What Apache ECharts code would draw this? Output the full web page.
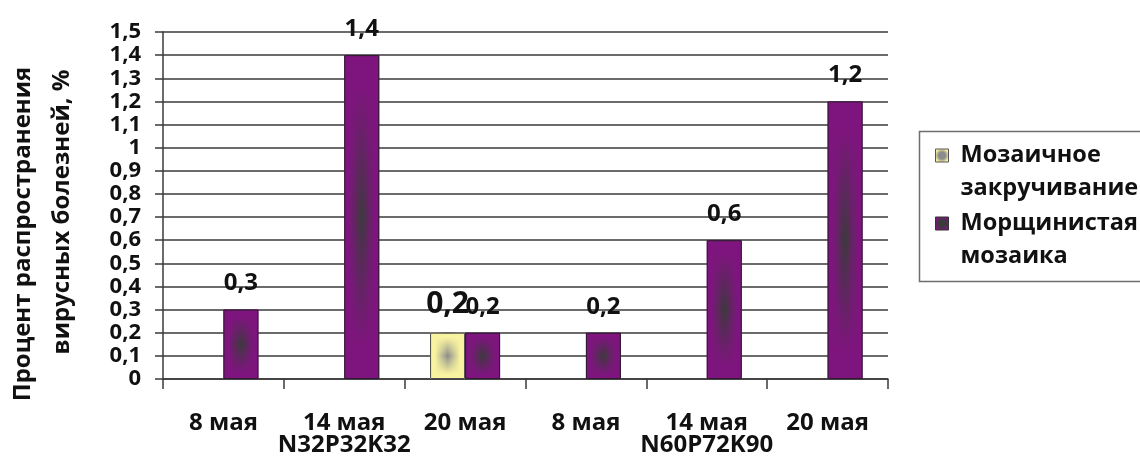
<!DOCTYPE html>
<html>
<head>
<meta charset="utf-8">
<script src="https://cdn.jsdelivr.net/npm/echarts@6/dist/echarts.min.js"></script>
<style>
  html, body { margin: 0; padding: 0; background: #ffffff; }
  #chart { width: 1140px; height: 475px; }
</style>
</head>
<body>
<div id="chart"></div>
<script>
// Sampling dates within each fertiliser treatment
const dates = ['8 мая', '14 мая', '20 мая'];
const treatments = ['N32P32K32', 'N60P72K90'];
const seriesNames = ['Мозаичное закручивание', 'Морщинистая мозаика'];
// Share of plants with virus symptoms, % (per treatment × date)
const mosaicCurl = [null, null, 0.2, null, null, null];
const wrinkledMosaic = [0.3, 1.4, 0.2, 0.2, 0.6, 1.2];
const yTitleLines = ['Процент распространения', 'вирусных болезней, %'];

const FONT = '"Open Sans", "DejaVu Sans", sans-serif';
const categories = [];
treatments.forEach(t => dates.forEach(d => categories.push(t + ' ' + d)));

const comma = v => String(Math.round(v * 10) / 10).replace('.', ',');

// Fill for a bar: a horizontal band that is darkest in the middle,
// plus an overlay that fades the edge colour back in toward top and bottom.
function baseFill(edge, core) {
  return {
    type: 'linear', x: 0, y: 0, x2: 1, y2: 0,
    colorStops: [
      { offset: 0, color: edge }, { offset: 0.14, color: edge },
      { offset: 0.5, color: core },
      { offset: 0.86, color: edge }, { offset: 1, color: edge }
    ]
  };
}
function fadeFill(rgb) {
  return {
    type: 'linear', x: 0, y: 0, x2: 0, y2: 1,
    colorStops: [
      { offset: 0, color: 'rgba(' + rgb + ',1)' },
      { offset: 0.1, color: 'rgba(' + rgb + ',1)' },
      { offset: 0.5, color: 'rgba(' + rgb + ',0)' },
      { offset: 0.9, color: 'rgba(' + rgb + ',1)' },
      { offset: 1, color: 'rgba(' + rgb + ',1)' }
    ]
  };
}
function iconFill(edge, core) {
  return {
    type: 'radial', x: 0.5, y: 0.5, r: 0.5,
    colorStops: [{ offset: 0, color: core }, { offset: 0.5, color: core }, { offset: 1, color: edge }]
  };
}

const YELLOW = '#f8f3a0', YELLOW_RGB = '248,243,160', YELLOW_CORE = '#8c8c8c';
const PURPLE = '#7e157e', PURPLE_RGB = '126,21,126', PURPLE_CORE = '#3b3b3b';

const BAR_W = 35;

function labelCfg(size, dist) {
  return {
    show: true, position: 'top', distance: dist,
    fontFamily: FONT, fontWeight: 'bold', fontSize: size, color: '#111',
    formatter: p => comma(p.value)
  };
}

const chart = echarts.init(document.getElementById('chart'), null, { renderer: 'canvas' });

chart.setOption({
  backgroundColor: '#ffffff',
  animation: false,
  grid: { left: 163, right: 252, top: 32, bottom: 96, containLabel: false },
  xAxis: [
    {
      type: 'category', data: categories, position: 'bottom',
      axisLine: { show: true, lineStyle: { color: '#3a3a3a', width: 1.5 } },
      axisTick: { show: true, length: 10, inside: false, lineStyle: { color: '#3a3a3a', width: 1.5 } },
      axisLabel: {
        interval: 0, margin: 33, lineHeight: 22, hideOverlap: false,
        fontFamily: FONT, fontWeight: 'bold', fontSize: 24, color: '#111',
        formatter: (v, i) => dates[i % dates.length] +
          (i % dates.length === 1 ? '\n' + treatments[Math.floor(i / dates.length)] : '')
      },
      splitLine: { show: false }
    },
    { type: 'category', data: categories, show: false }
  ],
  yAxis: {
    type: 'value', min: 0, max: 1.5, interval: 0.1,
    axisLine: { show: true, lineStyle: { color: '#3a3a3a', width: 1.5 } },
    axisTick: { show: true, length: 8, lineStyle: { color: '#3a3a3a', width: 1.5 } },
    axisLabel: {
      margin: 22, fontFamily: FONT, fontWeight: 'bold', fontSize: 22, lineHeight: 22,
      color: '#111', formatter: v => comma(v)
    },
    splitLine: { show: true, lineStyle: { color: '#3a3a3a', width: 1.5 } }
  },
  legend: {
    orient: 'vertical', left: 935, top: 106, padding: 0,
    itemWidth: 13, itemHeight: 13, itemGap: -31,
    selectedMode: false,
    icon: 'rect',
    // leading blank line keeps the marker level with the first text line
    formatter: name => '\n' + name.replace(' ', '\n'),
    textStyle: {
      fontFamily: FONT, fontWeight: 'bold', fontSize: 23.5, lineHeight: 33,
      color: '#111', padding: [0, 0, 0, 7]
    },
    data: [
      { name: seriesNames[0], itemStyle: { color: iconFill(YELLOW, YELLOW_CORE), borderColor: '#555', borderWidth: 1 } },
      { name: seriesNames[1], itemStyle: { color: iconFill(PURPLE, PURPLE_CORE), borderColor: '#333', borderWidth: 1 } }
    ]
  },
  graphic: [
    {
      type: 'rect', silent: true, z: -1,
      shape: { x: 919.5, y: 131.5, width: 260, height: 150 },
      style: { fill: '#ffffff', stroke: '#6e6e6e', lineWidth: 1.5 }
    },
    {
      type: 'text', x: 23, y: 234, rotation: Math.PI / 2, silent: true,
      style: {
        text: yTitleLines[0], fontFamily: FONT, fontWeight: 'bold', fontSize: 24,
        fill: '#111', align: 'center', verticalAlign: 'middle'
      }
    },
    {
      type: 'text', x: 62, y: 212, rotation: Math.PI / 2, silent: true,
      style: {
        text: yTitleLines[1], fontFamily: FONT, fontWeight: 'bold', fontSize: 24,
        fill: '#111', align: 'center', verticalAlign: 'middle'
      }
    }
  ],
  series: [
    {
      name: seriesNames[0], type: 'bar', xAxisIndex: 0, data: mosaicCurl,
      barWidth: BAR_W, barGap: '0%',
      itemStyle: { color: baseFill(YELLOW, YELLOW_CORE) },
      label: labelCfg(30, 13)
    },
    {
      name: seriesNames[1], type: 'bar', xAxisIndex: 0, data: wrinkledMosaic,
      barWidth: BAR_W, barGap: '0%',
      itemStyle: { color: baseFill(PURPLE, PURPLE_CORE) },
      label: labelCfg(24, 14)
    },
    {
      name: seriesNames[0], type: 'bar', xAxisIndex: 1, data: mosaicCurl,
      barWidth: BAR_W, barGap: '0%', silent: true,
      itemStyle: { color: fadeFill(YELLOW_RGB), borderColor: '#4a4a4a', borderWidth: 1 }
    },
    {
      name: seriesNames[1], type: 'bar', xAxisIndex: 1, data: wrinkledMosaic,
      barWidth: BAR_W, barGap: '0%', silent: true,
      itemStyle: { color: fadeFill(PURPLE_RGB), borderColor: '#2e1a2e', borderWidth: 1 }
    }
  ]
});
</script>
</body>
</html>
